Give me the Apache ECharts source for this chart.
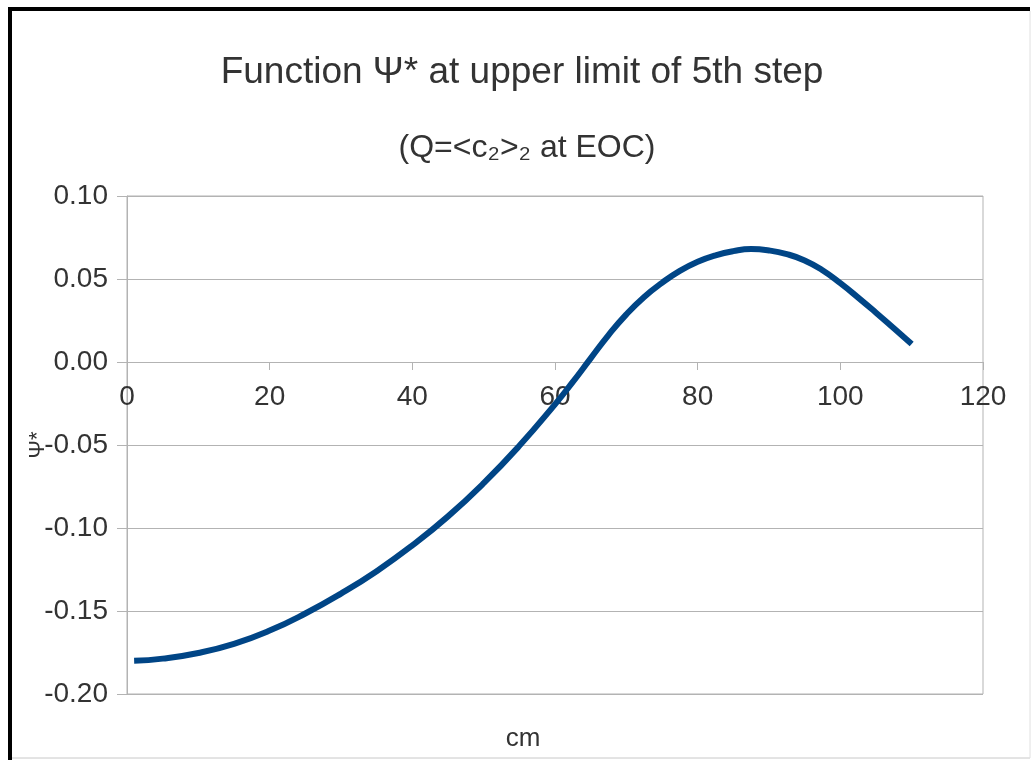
<!DOCTYPE html>
<html>
<head>
<meta charset="utf-8">
<script src="https://cdn.jsdelivr.net/npm/echarts@6/dist/echarts.min.js"></script>
<style>
html,body{margin:0;padding:0;background:#fff;}
#chart{width:1035px;height:760px;}
</style>
</head>
<body>
<div id="chart"></div>
<script>
const titleText = 'Function Ψ* at upper limit of 5th step';
const subtitleText = '(Q=<c₂>₂ at EOC)';
const xAxisName = 'cm';
const yAxisName = 'Ψ*';
const xValues = [1, 5, 10, 15, 20, 25, 30, 35, 40, 45, 50, 55, 60, 62.5, 65, 67.5, 70, 72.5, 75, 77.5, 80, 82.5, 85, 87.5, 90, 92.5, 95, 97.5, 100, 102.5, 105, 107.5, 110];
const psiValues = [-0.180, -0.1787, -0.1753, -0.1698, -0.1618, -0.1515, -0.1395, -0.126, -0.1105, -0.093, -0.073, -0.0505, -0.0255, -0.012, 0.0022, 0.0162, 0.0287, 0.0392, 0.0477, 0.0549, 0.0604, 0.0643, 0.0668, 0.0680, 0.0672, 0.0650, 0.0612, 0.0553, 0.0475, 0.0388, 0.0297, 0.0203, 0.0108];

const chart = echarts.init(document.getElementById('chart'));
const font = 'Liberation Sans, Arial, sans-serif';
const gridColor = '#b3b3b3';
const gridTop = 196, gridBottom = 66, chartH = 760;
const yMin = -0.2, yMax = 0.1;
const plotH = chartH - gridTop - gridBottom;
// shift the x axis up from the grid bottom to the y = 0 line
const xAxisOffset = -plotH * (0 - yMin) / (yMax - yMin);

chart.setOption({
  animation: false,
  backgroundColor: '#fff',
  title: [
    { text: titleText, left: 522, textAlign: 'center', top: 54, padding: 0,
      textStyle: { fontFamily: font, fontSize: 37, fontWeight: 'normal', color: '#333' } },
    { text: subtitleText, left: 527, textAlign: 'center', top: 132, padding: 0,
      textStyle: { fontFamily: font, fontSize: 32, fontWeight: 'normal', color: '#333' } }
  ],
  grid: { left: 127, right: 52, top: gridTop, bottom: gridBottom, show: true, borderColor: gridColor, borderWidth: 1 },
  xAxis: {
    type: 'value', min: 0, max: 120, interval: 20, position: 'bottom', offset: xAxisOffset,
    axisLine: { show: true, onZero: false, lineStyle: { color: gridColor, width: 1 } },
    axisTick: { show: true, length: 8, lineStyle: { color: gridColor } },
    axisLabel: { margin: 21, fontFamily: font, fontSize: 28, color: '#333' },
    splitLine: { show: false }
  },
  yAxis: {
    type: 'value', min: yMin, max: yMax, interval: 0.05,
    name: yAxisName, nameLocation: 'middle', nameRotate: 90, nameGap: 78, nameMoveOverlap: false,
    nameTextStyle: { fontFamily: font, fontSize: 22, color: '#333' },
    axisLine: { show: true, onZero: false, lineStyle: { color: gridColor, width: 1 } },
    axisTick: { show: true, length: 10, lineStyle: { color: gridColor } },
    axisLabel: { margin: 19, fontFamily: font, fontSize: 28, color: '#333', formatter: v => v.toFixed(2) },
    splitLine: { show: true, lineStyle: { color: gridColor, width: 1 } }
  },
  graphic: [
    { type: 'line', shape: { x1: 8, y1: 9, x2: 1030, y2: 9 }, style: { stroke: '#000', lineWidth: 4 } },
    { type: 'line', shape: { x1: 10, y1: 7, x2: 10, y2: 760 }, style: { stroke: '#000', lineWidth: 4 } },
    { type: 'line', shape: { x1: 12, y1: 758, x2: 1030, y2: 758 }, style: { stroke: '#c8c8c8', lineWidth: 1 } },
    { type: 'line', shape: { x1: 1030, y1: 11, x2: 1030, y2: 758 }, style: { stroke: '#e0e0e0', lineWidth: 1 } },
    { type: 'text', x: 523, y: 739, style: { text: xAxisName, fontFamily: font, fontSize: 26, fill: '#333', textAlign: 'center', textVerticalAlign: 'middle' } }
  ],
  series: [{
    type: 'line', smooth: true, showSymbol: false,
    data: xValues.map((x, i) => [x, psiValues[i]]),
    lineStyle: { color: '#004586', width: 6 }, itemStyle: { color: '#004586' }
  }]
});
</script>
</body>
</html>
